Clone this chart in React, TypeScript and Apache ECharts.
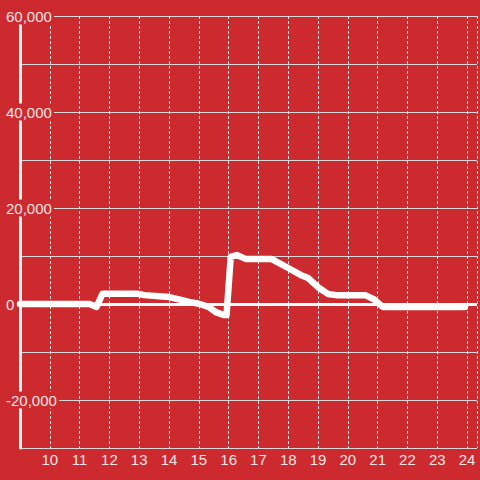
import React, { useEffect, useRef } from "react";
import * as echarts from "echarts";

const hours = [9.0, 11.33, 11.57, 11.77, 12.93, 13.17, 14.0, 14.33, 14.67, 15.0, 15.33, 15.57, 15.83, 15.93, 16.07, 16.27, 16.57, 17.43, 18.0, 18.43, 18.67, 19.0, 19.33, 19.67, 20.6, 20.87, 21.17, 23.93];
const values = [0, 0, -600, 2150, 2150, 1850, 1450, 950, 450, 50, -600, -1700, -2300, -2300, 9800, 10200, 9400, 9400, 7500, 6000, 5400, 3500, 2100, 1800, 1800, 1000, -600, -600];

const xMin = 9;
const xMax = 24.3333;
const yMin = -30000;
const yMax = 60000;
const yLabelStep = 20000;

const BG = "#cc2a2f";
const TEXT = "#f6e4e4";

export default function App() {
  const ref = useRef<HTMLDivElement>(null);
  useEffect(() => {
    if (!ref.current) return;
    const chart = echarts.init(ref.current, undefined, { renderer: "svg" });
    const data = hours.map((h, i) => [h, values[i]]);
    chart.setOption({
      animation: false,
      backgroundColor: BG,
      grid: { left: 20, right: 0, top: 16, bottom: 32 },
      xAxis: {
        type: "value",
        min: xMin,
        max: xMax,
        interval: 1,
        axisLine: { show: false },
        axisTick: { show: false },
        axisLabel: {
          color: TEXT,
          fontSize: 15,
          fontFamily: "Liberation Sans",
          margin: 4,
          formatter: (v: number) => (Number.isInteger(v) && v > xMin ? String(v) : ""),
        },
        splitLine: { show: true, lineStyle: { color: "#e0e0e0", width: 1, type: [3, 2] } },
      },
      yAxis: {
        type: "value",
        min: yMin,
        max: yMax,
        interval: 10000,
        axisLine: { show: true, lineStyle: { color: "#f2f2f2", width: 3 } },
        axisTick: { show: false },
        axisLabel: {
          color: TEXT,
          fontSize: 15,
          fontFamily: "Liberation Sans",
          align: "left",
          margin: 16,
          backgroundColor: BG,
          padding: [1, 2],
          formatter: (v: number) => (v % yLabelStep === 0 ? v.toLocaleString("en-US") : ""),
        },
        splitLine: { show: true, lineStyle: { color: "#d8d8d8", width: 1 } },
      },
      series: [
        {
          type: "line",
          data,
          showSymbol: false,
          symbol: "none",
          lineStyle: { color: "#ffffff", width: 6.5, join: "round", cap: "round" },
          markLine: {
            silent: true,
            symbol: "none",
            label: { show: false },
            lineStyle: { color: "#ffffff", width: 3, type: "solid" },
            data: [{ yAxis: 0 }],
          },
        },
      ],
    });
    return () => chart.dispose();
  }, []);
  return <div ref={ref} style={{ width: 480, height: 480, position: "absolute", left: 0, top: 0 }} />;
}
